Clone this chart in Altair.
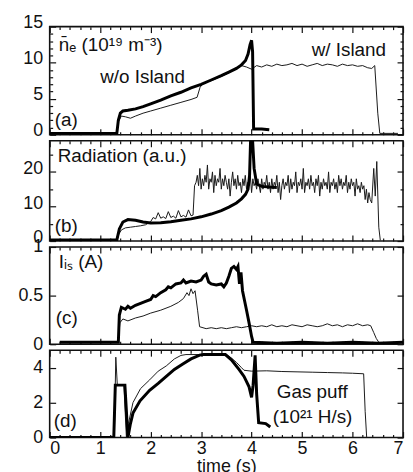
import altair as alt
import pandas as pd

FONT = "Liberation Sans"

# ---------------- axis tick values ----------------
X_MAJOR = [0, 1, 2, 3, 4, 5, 6, 7]
X_MINOR = [0.2, 0.4, 0.6, 0.8, 1.2, 1.4, 1.6, 1.8, 2.2, 2.4, 2.6, 2.8,
           3.2, 3.4, 3.6, 3.8, 4.2, 4.4, 4.6, 4.8, 5.2, 5.4, 5.6, 5.8,
           6.2, 6.4, 6.6, 6.8]

# ---------------- (a) line-averaged density ----------------
a_thick = [(0, 0.2), (1.33, 0.2), (1.36, 2.0), (1.40, 3.0), (1.45, 3.3), (1.55, 3.4),
           (1.7, 3.6), (1.85, 3.9), (2.0, 4.3), (2.2, 4.8), (2.4, 5.4), (2.6, 5.9),
           (2.8, 6.5), (3.0, 7.0), (3.2, 7.6), (3.4, 8.2), (3.55, 8.7), (3.7, 9.2),
           (3.8, 9.7), (3.88, 10.3), (3.93, 11.2), (3.97, 12.5), (4.0, 13.1),
           (4.02, 11.5), (4.04, 0.8), (4.2, 0.8), (4.35, 0.7)]
a_thin = [(0, 0.2), (1.33, 0.2), (1.36, 1.8), (1.42, 2.6), (1.5, 2.5), (1.6, 2.3),
          (1.7, 2.6), (1.85, 3.0), (2.0, 3.3), (2.2, 3.7), (2.4, 4.1), (2.6, 4.5),
          (2.8, 4.9), (2.92, 5.2), (2.98, 6.6), (3.05, 7.2), (3.2, 7.5), (3.4, 8.1),
          (3.55, 8.6), (3.7, 9.3), (3.8, 9.6), (3.9, 9.4), (4.0, 9.1), (4.1, 9.6),
          (4.2, 9.4), (4.3, 9.7), (4.4, 9.5), (4.5, 9.8), (4.6, 9.6), (4.7, 9.7),
          (4.8, 9.9), (4.9, 9.6), (5.0, 9.8), (5.1, 9.5), (5.2, 9.7), (5.3, 9.9),
          (5.4, 9.6), (5.5, 9.8), (5.6, 9.7), (5.7, 9.5), (5.8, 9.8), (5.9, 9.6),
          (6.0, 9.7), (6.1, 9.5), (6.2, 9.6), (6.3, 9.3), (6.38, 9.2), (6.44, 9.6),
          (6.5, 3.0), (6.54, 0.2), (6.9, 0.2)]
a_notes = [(0.18, 12.5, "n\u0304\u2091 (10\u00b9\u2079 m\u207b\u00b3)"),
           (1.0, 8.0, "w/o Island"),
           (5.19, 11.8, "w/ Island"),
           (0.1, 2.1, "(a)")]

# ---------------- (b) radiation ----------------
b_thick = [(0, 0.3), (1.33, 0.3), (1.38, 3.5), (1.45, 5.5), (1.55, 6.2), (1.7, 6.0),
           (1.85, 5.5), (2.0, 5.2), (2.2, 5.3), (2.4, 5.6), (2.6, 6.0), (2.8, 6.4),
           (3.0, 7.0), (3.2, 7.8), (3.4, 8.8), (3.55, 9.8), (3.7, 11.0), (3.8, 12.2),
           (3.88, 13.5), (3.93, 15.0), (3.96, 19.0), (3.98, 29.0), (4.02, 29.0),
           (4.05, 21.0), (4.1, 16.5), (4.2, 15.8), (4.35, 15.6), (4.5, 15.5)]
b_thin_pre = [(0, 0.2), (1.33, 0.2), (1.37, 2.0), (1.42, 3.2), (1.5, 3.8), (1.6, 4.0),
              (1.7, 4.2), (1.8, 4.4), (1.9, 4.7), (2.0, 5.6), (2.05, 6.8), (2.1, 6.4),
              (2.15, 8.2), (2.2, 6.6), (2.25, 7.0), (2.3, 6.5), (2.35, 8.5), (2.4, 6.8),
              (2.45, 7.2), (2.5, 6.6), (2.55, 8.8), (2.6, 7.0), (2.65, 7.4), (2.7, 6.9),
              (2.75, 9.0), (2.8, 7.3), (2.84, 7.5), (2.87, 16.0)]
b_band_t = [2.900, 2.925, 2.950, 2.975, 3.000, 3.025, 3.050, 3.075, 3.100, 3.125,
            3.150, 3.175, 3.200, 3.225, 3.250, 3.275, 3.300, 3.325, 3.350, 3.375,
            3.400, 3.425, 3.450, 3.475, 3.500, 3.525, 3.550, 3.575, 3.600, 3.625,
            3.650, 3.675, 3.700, 3.725, 3.750, 3.775, 3.800, 3.825, 3.850, 3.875,
            3.900, 3.925, 3.950, 3.975, 4.000, 4.025, 4.050, 4.075, 4.100, 4.125,
            4.150, 4.175, 4.200, 4.225, 4.250, 4.275, 4.300, 4.325, 4.350, 4.375,
            4.400, 4.425, 4.450, 4.475, 4.500, 4.525, 4.550, 4.575, 4.600, 4.625,
            4.650, 4.675, 4.700, 4.725, 4.750, 4.775, 4.800, 4.825, 4.850, 4.875,
            4.900, 4.925, 4.950, 4.975, 5.000, 5.025, 5.050, 5.075, 5.100, 5.125,
            5.150, 5.175, 5.200, 5.225, 5.250, 5.275, 5.300, 5.325, 5.350, 5.375,
            5.400, 5.425, 5.450, 5.475, 5.500, 5.525, 5.550, 5.575, 5.600, 5.625,
            5.650, 5.675, 5.700, 5.725, 5.750, 5.775, 5.800, 5.825, 5.850, 5.875,
            5.900, 5.925, 5.950, 5.975, 6.000, 6.025, 6.050, 6.075, 6.100, 6.125,
            6.150, 6.175, 6.200, 6.225, 6.250, 6.275, 6.300, 6.325, 6.350]
b_band_v = [17, 19, 16, 21, 15, 18, 16, 19, 17, 22,
            15, 18, 17, 20, 14, 19, 16, 18, 17, 21,
            15, 18, 16, 19, 17, 15, 18, 13, 17, 20,
            16, 18, 15, 19, 16, 17, 14, 18, 16, 19,
            15, 17, 16, 19, 14, 18, 16, 17, 15, 18,
            16, 14, 18, 15, 17, 16, 19, 15, 17, 14,
            18, 15, 17, 16, 19, 14, 17, 12, 16, 18,
            15, 17, 16, 19, 14, 18, 15, 17, 16, 20,
            14, 17, 16, 18, 15, 21, 14, 17, 16, 18,
            15, 19, 16, 17, 14, 18, 16, 19, 13, 17,
            15, 18, 16, 17, 15, 20, 14, 17, 16, 18,
            15, 17, 14, 19, 16, 18, 15, 17, 16, 19,
            14, 17, 15, 18, 16, 17, 13, 18, 15, 16,
            14, 17, 15, 16, 12, 15, 11, 14, 12]
b_thin_post = [(6.38, 11.0), (6.42, 21.0), (6.45, 13.0), (6.48, 23.0), (6.52, 4.0), (6.55, 0.2)]
b_notes = [(0.16, 24.7, "Radiation (a.u.)"), (0.1, 4.3, "(b)")]

# ---------------- (c) ion saturation current ----------------
c_thick = [(0.2, 0.02), (1.36, 0.02), (1.38, 0.30), (1.42, 0.38), (1.5, 0.36), (1.55, 0.39),
           (1.6, 0.37), (1.7, 0.40), (1.8, 0.42), (1.9, 0.44), (2.0, 0.46), (2.05, 0.50),
           (2.1, 0.49), (2.2, 0.53), (2.3, 0.56), (2.35, 0.59), (2.4, 0.58), (2.5, 0.62),
           (2.6, 0.63), (2.65, 0.66), (2.7, 0.63), (2.8, 0.65), (2.9, 0.64), (3.0, 0.66),
           (3.05, 0.70), (3.1, 0.72), (3.15, 0.64), (3.2, 0.62), (3.3, 0.61), (3.4, 0.62),
           (3.45, 0.59), (3.5, 0.63), (3.55, 0.70), (3.6, 0.78), (3.65, 0.80), (3.7, 0.77),
           (3.73, 0.80), (3.76, 0.62), (3.79, 0.74), (3.82, 0.55), (3.86, 0.45), (3.9, 0.35),
           (3.95, 0.22), (4.0, 0.08), (4.03, 0.02), (4.5, 0.01), (5.0, 0.02), (5.5, 0.01),
           (6.0, 0.02), (6.5, 0.01), (7.0, 0.02)]
c_thin = [(0.2, 0.02), (1.36, 0.02), (1.39, 0.22), (1.45, 0.26), (1.55, 0.24), (1.7, 0.27),
          (1.85, 0.29), (2.0, 0.32), (2.2, 0.35), (2.4, 0.39), (2.55, 0.43), (2.65, 0.47),
          (2.72, 0.53), (2.76, 0.50), (2.8, 0.57), (2.84, 0.52), (2.88, 0.55), (2.93, 0.35),
          (2.97, 0.18), (3.1, 0.16), (3.2, 0.17), (3.3, 0.16), (3.4, 0.17), (3.5, 0.16),
          (3.6, 0.17), (3.7, 0.18), (3.8, 0.17), (3.9, 0.18), (4.0, 0.19), (4.1, 0.18),
          (4.2, 0.19), (4.3, 0.18), (4.4, 0.20), (4.5, 0.18), (4.6, 0.19), (4.7, 0.18),
          (4.8, 0.20), (4.9, 0.19), (5.0, 0.18), (5.1, 0.20), (5.2, 0.19), (5.3, 0.18),
          (5.4, 0.19), (5.5, 0.21), (5.6, 0.19), (5.7, 0.20), (5.8, 0.18), (5.9, 0.20),
          (6.0, 0.19), (6.1, 0.21), (6.2, 0.19), (6.3, 0.20), (6.36, 0.19), (6.42, 0.12),
          (6.47, 0.06), (6.52, 0.02), (6.6, 0.01)]
c_notes = [(0.18, 0.84, "I\u1d62\u209b (A)"), (0.12, 0.27, "(c)")]

# ---------------- (d) gas puff ----------------
d_thick = [(0, 0), (1.27, 0), (1.30, 3.0), (1.49, 3.0), (1.55, 0), (1.60, 0.8), (1.65, 1.4),
           (1.79, 2.1), (1.98, 2.7), (2.15, 3.1), (2.31, 3.5), (2.47, 3.9), (2.63, 4.2),
           (2.8, 4.5), (2.97, 4.72), (3.05, 4.75), (3.48, 4.75), (3.6, 4.45), (3.75, 3.9),
           (3.85, 3.5), (3.95, 2.9), (4.0, 2.3), (4.03, 3.0), (4.07, 4.7), (4.1, 2.5),
           (4.14, 0.85), (4.28, 0.8), (4.37, 0.6)]
d_thin = [(1.28, 0), (1.31, 4.6), (1.34, 3.0), (1.47, 3.0), (1.52, 0), (1.56, 0.8),
          (1.65, 2.0), (1.8, 2.8), (1.98, 3.3), (2.15, 3.8), (2.31, 4.1), (2.47, 4.5),
          (2.6, 4.7), (2.7, 4.75), (3.5, 4.75), (3.6, 4.55), (3.7, 4.3), (3.8, 4.0),
          (3.85, 3.85), (4.0, 3.8), (4.3, 3.82), (4.6, 3.78), (4.9, 3.76), (5.2, 3.74),
          (5.5, 3.72), (5.8, 3.70), (6.0, 3.68), (6.22, 3.65), (6.25, 1.5), (6.28, 0)]
d_notes = [(4.5, 2.6, "Gas puff"), (4.42, 1.18, "(10\u00b2\u00b9 H/s)"), (0.08, 0.95, "(d)")]

W = 356
XS = alt.Scale(domain=[0, 7], nice=False, zero=False)


def to_df(pairs):
    return pd.DataFrame(pairs, columns=["t", "v"])


def axis(orient, values, size, labels=False, title=None, label_offset=0):
    kw = dict(orient=orient, values=values, tickSize=size, offset=-size,
              domain=False, grid=False, labels=labels, ticks=True,
              tickColor="#111", tickWidth=1.2, title=title, minExtent=0)
    if labels:
        kw.update(labelFont=FONT, labelFontSize=18, labelColor="#111",
                  labelPadding=2 if orient in ("bottom", "top") else 7,
                  format="~f", labelOffset=label_offset)
    if title:
        kw.update(titleFont=FONT, titleFontSize=18, titleFontWeight="normal",
                  titleColor="#111", titlePadding=0)
    return alt.Axis(**kw)


def panel(thick, thin, ydom, ymajor, yminor, notes, height, bottom=False, loff=0):
    ys = alt.Scale(domain=ydom, nice=False, zero=False)
    thick_df = to_df(thick)
    thin_df = to_df(thin)
    title = "time (s)" if bottom else None
    l1 = alt.Chart(thin_df).mark_line(color="#1a1a1a", strokeWidth=1, clip=True).encode(
        x=alt.X("t:Q", scale=XS, axis=axis("bottom", X_MAJOR, 6, labels=bottom, title=title)),
        y=alt.Y("v:Q", scale=ys, axis=axis("left", ymajor, 6, labels=True, label_offset=loff)),
        order="t:Q")
    l2 = alt.Chart(thick_df).mark_line(color="#000", strokeWidth=3, clip=True).encode(
        x=alt.X("t:Q", scale=XS, axis=axis("top", X_MAJOR, 6)),
        y=alt.Y("v:Q", scale=ys, axis=axis("right", ymajor, 6)),
        order="t:Q")
    l3 = alt.Chart(thin_df).mark_line(opacity=0).encode(
        x=alt.X("t:Q", scale=XS, axis=axis("bottom", X_MINOR, 3)),
        y=alt.Y("v:Q", scale=ys, axis=axis("left", yminor, 3)))
    l4 = alt.Chart(thin_df).mark_line(opacity=0).encode(
        x=alt.X("t:Q", scale=XS, axis=axis("top", X_MINOR, 3)),
        y=alt.Y("v:Q", scale=ys, axis=axis("right", yminor, 3)))
    notes_df = pd.DataFrame(notes, columns=["t", "v", "label"])
    l5 = alt.Chart(notes_df).mark_text(align="left", baseline="middle", font=FONT,
                                        fontSize=19, color="#111").encode(
        x=alt.X("t:Q", scale=XS, axis=None),
        y=alt.Y("v:Q", scale=ys, axis=None),
        text="label:N")
    return alt.layer(l1, l2, l3, l4, l5).resolve_axis(
        x="independent", y="independent").properties(width=W, height=height)


b_thin = b_thin_pre + list(zip(b_band_t, b_band_v)) + b_thin_post

pa = panel(a_thick, a_thin, [0, 15], [0, 5, 10, 15],
           [1, 2, 3, 4, 6, 7, 8, 9, 11, 12, 13, 14], a_notes, 109, loff=-4)
pb = panel(b_thick, b_thin, [0, 29], [0, 10, 20], [5, 15, 25], b_notes, 101, loff=-3)
pc = panel(c_thick, c_thin, [0, 1], [0, 0.5, 1], [], c_notes, 98)
pdd = panel(d_thick, d_thin, [0, 5], [0, 2, 4], [], d_notes, 88, bottom=True)

chart = alt.vconcat(pa, pb, pc, pdd, spacing=6, bounds="flush").properties(
    padding={"left": 9, "top": 3, "right": 0, "bottom": 0},
    background="white",
).configure_view(stroke="#111", strokeWidth=1.6)

chart.save("out.html", embed_options={"renderer": "svg", "actions": False})
